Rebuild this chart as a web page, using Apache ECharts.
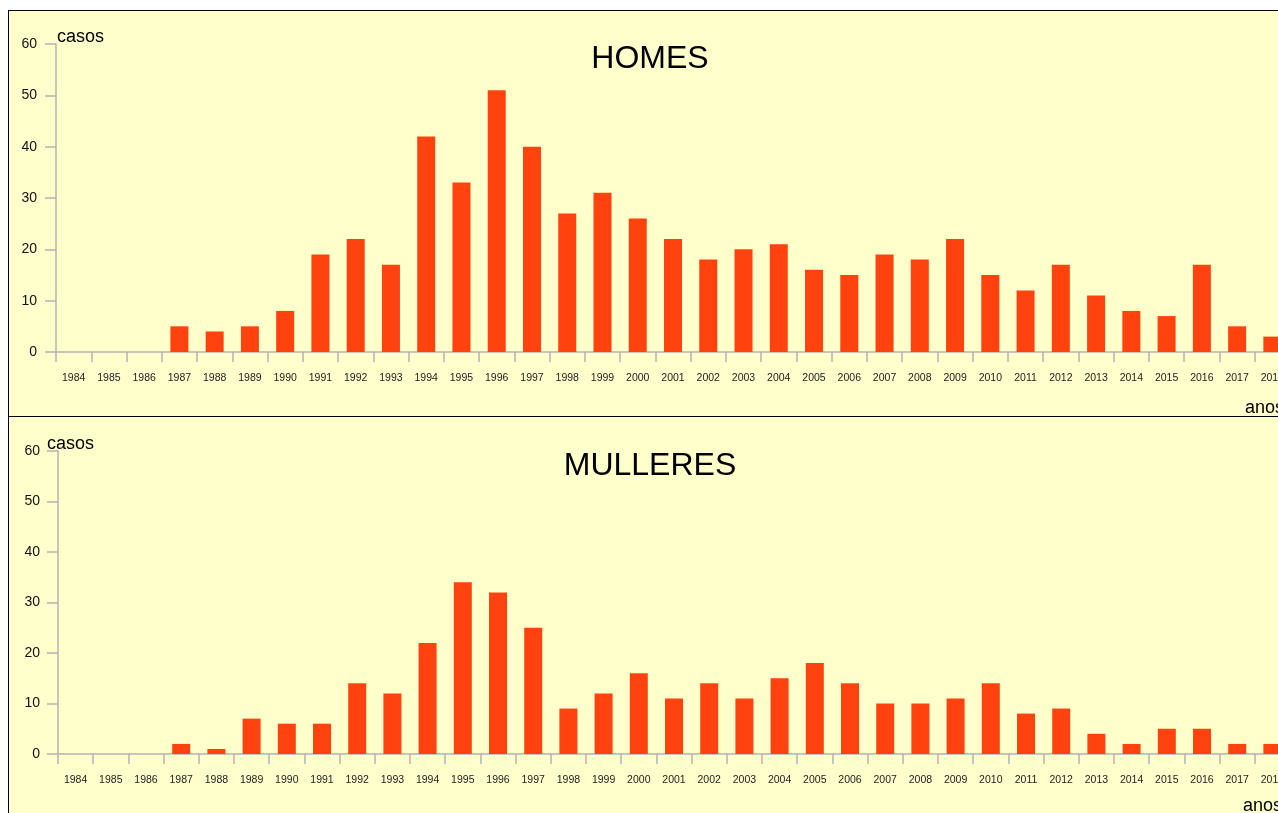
<!DOCTYPE html>
<html>
<head>
<meta charset="utf-8">
<script src="https://cdn.jsdelivr.net/npm/echarts@6/dist/echarts.min.js"></script>
<style>
  html, body { margin: 0; padding: 0; background: #fff; overflow: hidden; }
  .panel { position: absolute; background: #ffffcc; box-sizing: border-box; }
  #p1 { left: 8px; top: 10px; width: 1400px; height: 407px; border-top: 1px solid #000; border-left: 1px solid #000; border-bottom: 1px solid #000; }
  #p2 { left: 8px; top: 417px; width: 1400px; height: 420px; border-left: 1px solid #000; }
  #chart { position: absolute; left: 0; top: 0; width: 1300px; height: 813px; }
</style>
</head>
<body>
<div class="panel" id="p1"></div>
<div class="panel" id="p2"></div>
<div id="chart"></div>
<script>
const years = ['1984', '1985', '1986', '1987', '1988', '1989', '1990', '1991', '1992', '1993',
  '1994', '1995', '1996', '1997', '1998', '1999', '2000', '2001', '2002', '2003',
  '2004', '2005', '2006', '2007', '2008', '2009', '2010', '2011', '2012', '2013',
  '2014', '2015', '2016', '2017', '2018']

const homes = [0, 0, 0, 5, 4, 5, 8, 19, 22, 17,
  42, 33, 51, 40, 27, 31, 26, 22, 18, 20,
  21, 16, 15, 19, 18, 22, 15, 12, 17, 11,
  8, 7, 17, 5, 3]

const mulleres = [0, 0, 0, 2, 1, 7, 6, 6, 14, 12,
  22, 34, 32, 25, 9, 12, 16, 11, 14, 11,
  15, 18, 14, 10, 10, 11, 14, 8, 9, 4,
  2, 5, 5, 2, 2]

const panelTitles = ['HOMES', 'MULLERES']
const yName = 'casos'
const xName = 'anos'

const axisGrey = '#b3b3b3'
const barColor = '#ff420e'

function makeXAxis(gridIndex) {
  return {
    type: 'category',
    gridIndex,
    data: years,
    boundaryGap: true,
    axisLine: { lineStyle: { color: axisGrey, width: 1.5 } },
    axisTick: { show: true, length: 10, lineStyle: { color: axisGrey, width: 1.5 } },
    axisLabel: { fontSize: 10.5, color: '#222', margin: 21, interval: 0, fontFamily: 'Liberation Sans' },
    splitLine: { show: false },
  }
}

function makeYAxis(gridIndex, margin) {
  return {
    type: 'value',
    gridIndex,
    min: 0,
    max: 60,
    interval: 10,
    axisLine: { show: true, lineStyle: { color: axisGrey, width: 1.5 } },
    axisTick: { show: true, length: 11, lineStyle: { color: axisGrey, width: 1.5 } },
    axisLabel: { fontSize: 14, color: '#111', margin, fontFamily: 'Liberation Sans', padding: [2, 0, 0, 0] },
    splitLine: { show: false },
  }
}

function makeText(text, x, y, size, align) {
  return {
    type: 'text',
    x,
    y,
    style: {
      text,
      fontSize: size,
      fontFamily: 'Liberation Sans',
      fill: '#000',
      align,
      verticalAlign: 'middle',
    },
  }
}

const chart = echarts.init(document.getElementById('chart'))

chart.setOption({
  backgroundColor: 'transparent',
  animation: false,
  grid: [
    { left: 56, top: 44, width: 1234, height: 308 },
    { left: 58, top: 451, width: 1232, height: 303 },
  ],
  xAxis: [makeXAxis(0), makeXAxis(1)],
  yAxis: [makeYAxis(0, 19), makeYAxis(1, 18)],
  series: [
    { type: 'bar', xAxisIndex: 0, yAxisIndex: 0, data: homes, barWidth: 18, itemStyle: { color: barColor } },
    { type: 'bar', xAxisIndex: 1, yAxisIndex: 1, data: mulleres, barWidth: 18, itemStyle: { color: barColor } },
  ],
  graphic: [
    makeText(panelTitles[0], 650, 59, 32, 'center'),
    makeText(panelTitles[1], 650, 466, 32, 'center'),
    makeText(yName, 57, 37, 18, 'left'),
    makeText(yName, 47, 444, 18, 'left'),
    makeText(xName, 1245, 408, 18, 'left'),
    makeText(xName, 1243, 806, 18, 'left'),
  ],
})
</script>
</body>
</html>
